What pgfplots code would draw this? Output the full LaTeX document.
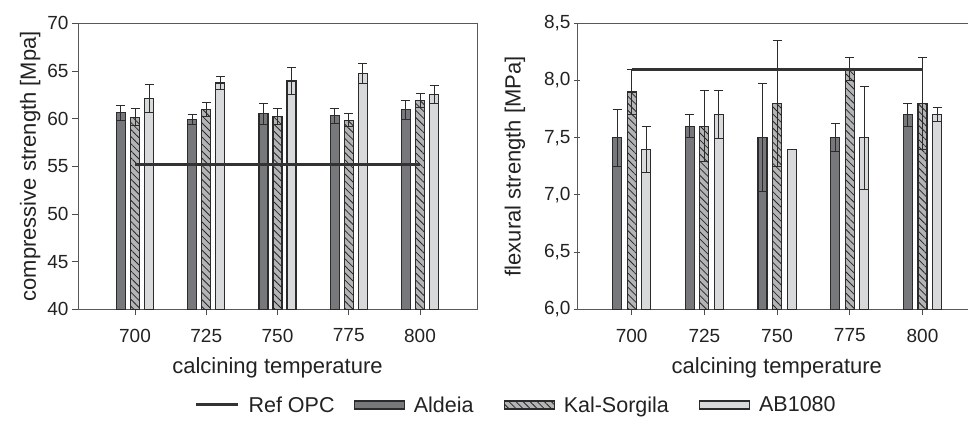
\documentclass[border=0pt]{standalone}
\usepackage{fontspec}
\setmainfont{Liberation Sans}
\usepackage{pgfplots}
\pgfplotsset{compat=1.18}
\usetikzlibrary{patterns.meta}
\definecolor{aldeia}{HTML}{77787B}
\definecolor{kal}{HTML}{B3B4B6}
\definecolor{ab}{HTML}{D8D9DB}
\definecolor{edge}{HTML}{2B2B2B}
\definecolor{refc}{HTML}{333333}
\definecolor{txt}{HTML}{222222}
\pgfplotsset{
  common/.style={
    scale only axis, anchor=south west, height=286pt,
    xtick={0,...,4}, xticklabels={700,725,750,775,800},
    xtick pos=lower, ytick pos=left,
    tick align=outside, major tick length=6pt,
    tick style={color=black!70, line width=0.8pt},
    axis line style={black!65, line width=0.8pt},
    ticklabel style={font=\fontsize{19}{19}\selectfont, text=txt},
    xticklabel style={yshift=-10pt},
    label style={font=\fontsize{22}{22}\selectfont, text=txt},
    /pgf/number format/assume math mode=true,
    xlabel={calcining temperature},
  },
  errs/.style={error bars/y dir=both, error bars/y explicit,
    error bars/error bar style={line width=1pt, color=edge},
    error bars/error mark options={rotate=90, mark size=4.5pt, line width=1pt, color=edge}},
  baraldeia/.style={ybar, bar width=9pt, bar shift=0pt, fill=aldeia, draw=edge, line width=1.2pt, errs},
  barkal/.style={ybar, bar width=9pt, bar shift=0pt, fill=kal, draw=edge, line width=1.2pt,
    postaction={pattern={Lines[angle=-45,distance=5pt,line width=0.8pt]}, pattern color=black!85}, errs},
  barab/.style={ybar, bar width=9pt, bar shift=0pt, fill=ab, draw=edge, line width=1.2pt, errs},
  reflegend/.style={legend image code/.code={\draw[line width=3pt, color=refc] (0pt,0pt) -- (42pt,0pt);}},
  boxlegend/.style={legend image code/.code={\draw[##1] (0pt,-4pt) rectangle (50pt,4pt);}},
}
\begin{document}
\begin{tikzpicture}[x=1pt,y=1pt]
\useasboundingbox (0,0) rectangle (968,423);
% ---------------- left axis
\begin{axis}[common,
  at={(78pt,113.7pt)}, width=399pt,
  xmin=-0.8, xmax=4.8, ymin=40, ymax=70, ytick={40,45,...,70},
  ylabel={compressive strength [Mpa]},
  every axis x label/.style={at={(rel axis cs:0.5,0)}, anchor=center, yshift=-59pt, font=\fontsize{22}{22}\selectfont, text=txt},
  legend columns=4,
  legend style={at={(1.098,-0.3346)}, anchor=center, draw=none, fill=none,
    font=\fontsize{21.5}{21.5}\selectfont, text=txt,
    /tikz/every odd column/.style={column sep=7pt},
    /tikz/every even column/.style={column sep=17pt}},
]
\addlegendimage{reflegend}
\addlegendentry{Ref OPC}
\addlegendimage{boxlegend, fill=aldeia, draw=edge, line width=1.2pt}
\addlegendentry{Aldeia\kern11pt}
\addlegendimage{boxlegend, fill=kal, draw=edge, line width=1.2pt, postaction={pattern={Lines[angle=-45,distance=5pt,line width=0.8pt]}, pattern color=black!85}}
\addlegendentry{Kal-Sorgila\kern11pt}
\addlegendimage{boxlegend, fill=ab, draw=edge, line width=1.2pt}
\addlegendentry{AB1080}
\addplot[baraldeia, forget plot]
  coordinates {(-0.197,60.63) +- (0,0.8) (0.803,59.93) +- (0,0.5) (1.803,60.52) +- (0,1.1) (2.803,60.31) +- (0,0.77) (3.803,60.94) +- (0,0.98)};
\addplot[barkal, forget plot]
  coordinates {(0,60.14) +- (0,0.9) (1,60.98) +- (0,0.75) (2,60.21) +- (0,0.84) (3,59.82) +- (0,0.67) (4,61.89) +- (0,0.77)};
\addplot[barab, forget plot]
  coordinates {(0.197,62.13) +- (0,1.47) (1.197,63.74) +- (0,0.66) (2.197,63.95) +- (0,1.4) (3.197,64.72) +- (0,1.08) (4.197,62.52) +- (0,0.94)};
\addplot[forget plot, line width=3pt, color=refc] coordinates {(0,55.24) (4,55.24)};
\end{axis}
% ---------------- right axis
\begin{axis}[common,
  at={(577pt,113.7pt)}, width=391pt,
  axis x line=box, axis y line=left, y axis line style={-},
  xmin=-0.752, xmax=4.626, ymin=6, ymax=8.5, ytick={6,6.5,...,8.5},
  yticklabel style={/pgf/number format/.cd, use comma, fixed, fixed zerofill, precision=1},
  ylabel={flexural strength [MPa]}, ylabel shift=12pt,
  every axis x label/.style={at={(rel axis cs:0.511,0)}, anchor=center, yshift=-59pt, font=\fontsize{22}{22}\selectfont, text=txt},
]
\addplot[baraldeia]
  coordinates {(-0.2,7.50) +- (0,0.25) (0.8,7.60) +- (0,0.1) (1.8,7.50) +- (0,0.47) (2.8,7.50) +- (0,0.12) (3.8,7.70) +- (0,0.1)};
\addplot[barkal]
  coordinates {(0,7.90) +- (0,0.2) (1,7.60) +- (0,0.31) (2,7.80) +- (0,0.55) (3,8.10) +- (0,0.1) (4,7.80) +- (0,0.4)};
\addplot[barab]
  coordinates {(0.2,7.40) +- (0,0.2) (1.2,7.70) +- (0,0.21) (2.2,7.40) +- (0,0) (3.2,7.50) +- (0,0.45) (4.2,7.70) +- (0,0.06)};
\addplot[line width=3pt, color=refc] coordinates {(0,8.10) (4,8.10)};
\end{axis}
\end{tikzpicture}
\end{document}
